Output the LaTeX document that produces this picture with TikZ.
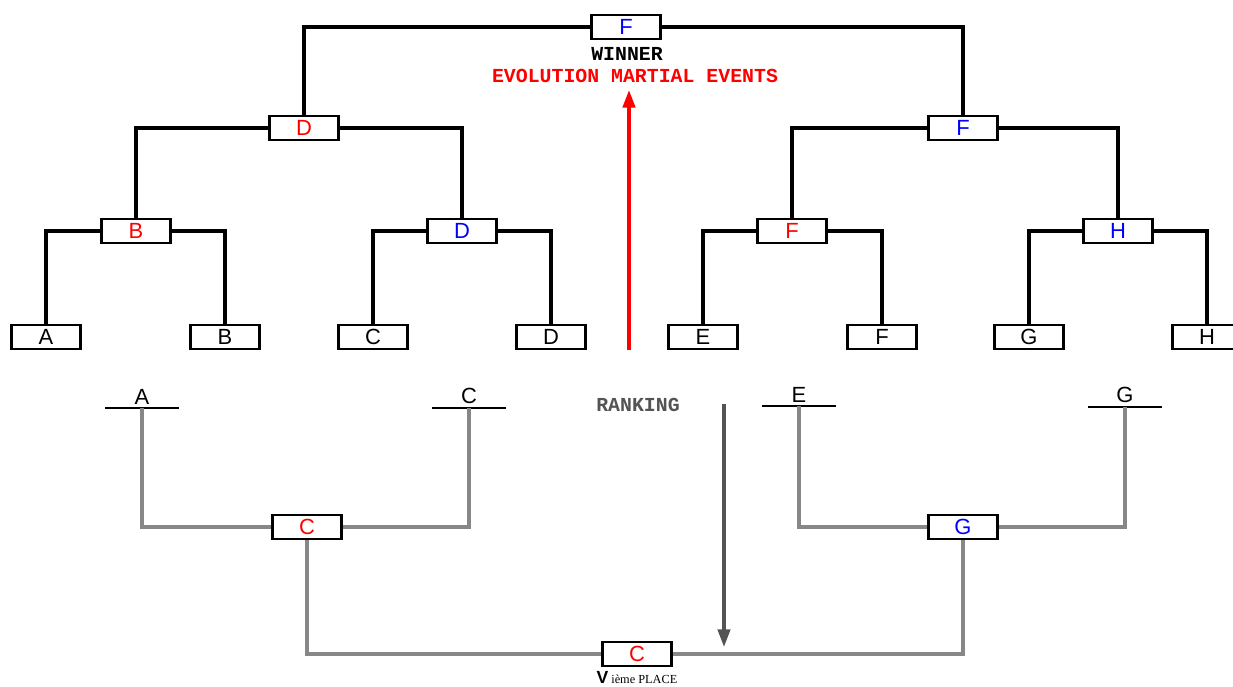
\documentclass[tikz,border=0pt]{standalone}
\usepackage{fontspec}
\setmainfont{Liberation Sans}
\newfontfamily\monofont{Liberation Mono}
\newfontfamily\seriffont{Liberation Serif}
\usetikzlibrary{arrows.meta, positioning}

\begin{document}
\begin{tikzpicture}[
        % one unit is one pixel of the sheet, y runs down
        x=0.02cm, y=-0.02cm,
        team/.style={draw, line width=1.5pt, fill=white, minimum width=39.5pt,
            minimum height=13.5pt, inner sep=0pt,
            font=\fontsize{12.5}{14}\selectfont},
        seat/.style={minimum width=41.5pt, inner xsep=0pt, inner ysep=2pt,
            font=\fontsize{12.5}{14}\selectfont},
        bout/.style={line width=2.1pt, black},
        place/.style={line width=1.9pt, black!47},
        caption/.style={font=\monofont\bfseries\fontsize{11.3}{13}\selectfont}
    ]
    \useasboundingbox (0,0) rectangle (1233,686);

    % upper bracket
    \node[team, text=blue] (top) at (626,27) {F};
    \node[team, text=red]  (d3) at (304,128) {D};
    \node[team, text=blue] (f3) at (963,128) {F};
    \node[team, text=red]  (b2) at (136,231) {B};
    \node[team, text=blue] (d2) at (462,231) {D};
    \node[team, text=red]  (f2) at (792,231) {F};
    \node[team, text=blue] (h2) at (1118,231) {H};
    \node[team] (a1) at (46,337) {A};
    \node[team] (b1) at (225,337) {B};
    \node[team] (c1) at (373,337) {C};
    \node[team] (d1) at (551,337) {D};
    \node[team] (e1) at (703,337) {E};
    \node[team] (f1) at (882,337) {F};
    \node[team] (g1) at (1029,337) {G};
    \node[team] (h1) at (1207,337) {H};
    \foreach \p/\c in {top/d3, top/f3, d3/b2, d3/d2, f3/f2, f3/h2,
            b2/a1, b2/b1, d2/c1, d2/d1, f2/e1, f2/f1, h2/g1, h2/h1}
        \draw[bout] (\p) -| (\c);

    \node[caption] (winner) at (627,54) {WINNER};
    \node[caption, text=red] (evo) at (635,76) {EVOLUTION MARTIAL EVENTS};
    \coordinate (upfoot) at (629,350);
    \coordinate (uptip) at (629,90);
    \draw[line width=2pt, red, -{Triangle[length=10pt, width=7pt]}] (upfoot) -- (uptip);

    % ranking for the lower places
    \node[caption, text=black!67] (ranking) at (638,405) {RANKING};
    \coordinate (downtop) at (724,404);
    \coordinate (downtip) at (724,647);
    \draw[line width=1.9pt, black!67, -{Triangle[length=10pt, width=7pt]}] (downtop) -- (downtip);

    \node[seat, anchor=south] (sa) at (142,408) {A};
    \node[seat, anchor=south] (sc) at (469,408) {C};
    \node[seat, anchor=south] (se) at (799,406) {E};
    \node[seat, anchor=south] (sg) at (1125,407) {G};
    \foreach \s in {sa, sc, se, sg}
        \draw[line width=1.7pt] (\s.south west) -- (\s.south east);

    \node[team, text=red]  (cs) at (307,527) {C};
    \node[team, text=blue] (gs) at (963,527) {G};
    \node[team, text=red]  (fifth) at (637,654) {C};
    \foreach \s/\t in {sa/cs, sc/cs, se/gs, sg/gs}
        \draw[place] (\s.south) |- (\t);
    \foreach \s in {cs, gs}
        \draw[place] (\s) |- (fifth);

    \node[inner sep=0pt, anchor=base] (placename) at (637,683)
        {\fontsize{10}{11}\selectfont\bfseries V\,{\seriffont\mdseries\fontsize{7}{8}\selectfont ième PLACE}};
\end{tikzpicture}
\end{document}
